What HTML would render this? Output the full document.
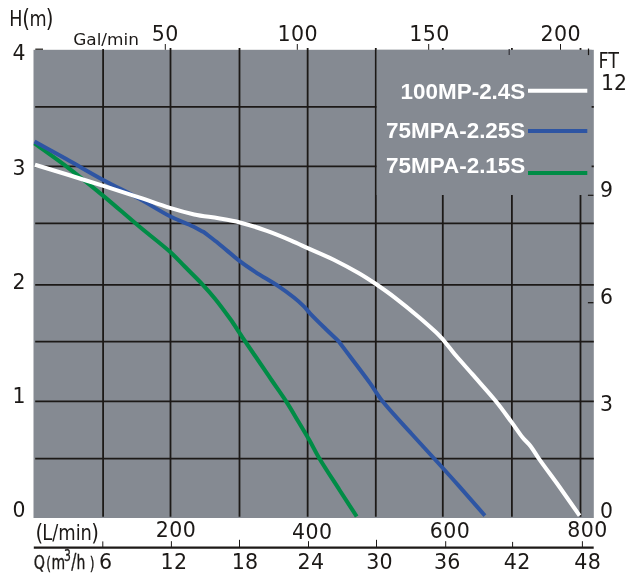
<!DOCTYPE html><html><head><meta charset="utf-8"><title>Pump curve</title>
<style>html,body{margin:0;padding:0;background:#fff}svg{display:block}text{fill:#1c1917}.d{font-family:"DejaVu Sans","Liberation Sans",sans-serif}.a{font-family:"Liberation Sans",sans-serif;font-weight:bold;fill:#fff}</style></head><body>
<svg width="626" height="578" viewBox="0 0 626 578">
<rect width="626" height="578" fill="#fff"/>
<rect x="33.5" y="49.8" width="560.3" height="468.2" fill="#858a92"/>
<g stroke="#1c1917" stroke-width="1.8" fill="none">
<line x1="103.1" y1="49.0" x2="103.1" y2="516.8"/>
<line x1="170.5" y1="48.0" x2="170.5" y2="516.8"/>
<line x1="239.5" y1="48.0" x2="239.5" y2="516.8"/>
<line x1="307.65" y1="48.0" x2="307.65" y2="516.8"/>
<line x1="375.8" y1="48.0" x2="375.8" y2="516.8"/>
<line x1="442.8" y1="48.0" x2="442.8" y2="516.8"/>
<line x1="511.9" y1="48.0" x2="511.9" y2="516.8"/>
<line x1="580.5" y1="48.0" x2="580.5" y2="516.8"/>
<line x1="35.2" y1="106.8" x2="593.8" y2="106.8"/>
<line x1="35.2" y1="166.4" x2="593.8" y2="166.4"/>
<line x1="35.2" y1="223.4" x2="593.8" y2="223.4"/>
<line x1="35.2" y1="284.8" x2="593.8" y2="284.8"/>
<line x1="35.2" y1="341.65" x2="593.8" y2="341.65"/>
<line x1="35.2" y1="401.4" x2="593.8" y2="401.4"/>
<line x1="35.2" y1="458.65" x2="593.8" y2="458.65"/>
<line x1="35.3" y1="49.2" x2="43.0" y2="49.2" stroke-width="1.3" stroke="#2a2725"/>
</g>
<rect x="376.7" y="49.8" width="214.9" height="145.2" fill="#858a92"/>
<path d="M34.5,143.3 C45.1,151.0 55.9,158.4 66.3,166.3 C78.6,175.7 90.7,185.4 102.7,195.3 C115.0,205.4 126.8,216.1 139.0,226.3 C149.2,234.9 160.0,243.0 170.0,251.8 C175.1,256.3 179.7,261.5 184.5,266.3 C190.6,272.5 196.9,278.5 202.8,284.8 C207.0,289.3 211.1,293.9 215.0,298.7 C220.6,305.6 225.8,312.8 231.0,320.0 C234.2,324.5 237.1,329.3 240.2,333.9 C241.8,336.3 243.4,338.8 245.0,341.2 C251.6,350.9 258.4,360.6 265.0,370.3 C267.2,373.5 269.3,376.8 271.5,380.0 C276.4,387.2 281.6,394.3 286.3,401.6 C290.4,407.9 294.1,414.5 298.0,421.0 C301.8,427.3 305.6,433.6 309.3,440.0 C312.7,445.9 315.6,452.2 319.1,458.0 C325.6,468.8 332.7,479.4 339.5,490.0 C345.2,498.9 351.0,507.7 356.7,516.5" stroke="#008c46" stroke-width="4.1" fill="none" stroke-linejoin="round"/>
<path d="M34.5,141.4 C45.1,147.3 55.7,153.2 66.3,159.1 C78.5,165.9 90.4,173.0 102.7,179.7 C114.7,186.2 127.0,192.1 139.0,198.6 C149.5,204.3 159.4,210.8 170.0,216.3 C176.3,219.6 183.0,221.8 189.4,224.8 C194.2,227.0 198.8,229.5 203.5,231.9 C208.5,235.8 213.6,239.5 218.5,243.5 C225.7,249.3 232.5,255.5 239.8,261.2 C244.6,264.9 249.7,268.3 254.8,271.6 C262.8,276.8 271.1,281.4 279.0,286.6 C284.1,290.0 289.1,293.7 293.9,297.5 C297.3,300.2 300.5,303.1 303.6,306.1 C305.9,308.3 307.8,311.0 310.0,313.3 C314.7,318.2 319.6,323.0 324.5,327.8 C329.1,332.4 333.9,336.8 338.6,341.3 C342.8,346.9 347.0,352.4 351.2,358.0 C357.5,366.4 363.9,374.7 370.0,383.2 C374.3,389.1 377.8,395.6 382.5,401.3 C391.8,412.6 401.9,423.2 411.7,434.0 C420.2,443.4 428.8,452.6 437.3,462.0 C444.4,469.8 451.4,477.5 458.4,485.4 C467.3,495.4 476.1,505.5 484.9,515.6" stroke="#2e55a3" stroke-width="4.0" fill="none" stroke-linejoin="round"/>
<path d="M35.0,164.8 C45.4,168.0 55.9,171.1 66.3,174.3 C78.4,178.0 90.6,181.8 102.7,185.6 C114.8,189.5 126.9,193.4 139.0,197.4 C149.4,200.8 159.6,204.7 170.0,207.9 C178.0,210.4 186.0,212.6 194.2,214.4 C202.2,216.1 210.4,216.9 218.5,218.3 C225.6,219.5 232.8,220.6 239.8,222.4 C249.0,224.8 258.0,227.7 266.9,230.9 C275.1,233.8 283.2,237.2 291.2,240.6 C297.5,243.3 303.7,246.3 310.0,249.1 C318.1,252.7 326.3,256.1 334.2,260.0 C342.4,264.1 350.5,268.4 358.5,273.0 C364.4,276.4 370.2,280.2 375.9,284.0 C382.3,288.4 388.7,292.9 394.8,297.6 C403.0,303.9 411.1,310.5 419.0,317.2 C424.8,322.1 430.4,327.1 436.0,332.2 C437.9,334.0 439.7,335.9 441.5,337.8 C444.3,341.3 447.2,344.8 450.0,348.3 C452.2,351.0 454.3,353.7 456.5,356.3 C461.7,362.3 467.1,368.2 472.3,374.2 C480.1,383.1 488.2,391.8 495.7,401.0 C501.5,408.1 506.7,415.6 512.1,422.9 C515.6,427.7 518.7,432.7 522.4,437.3 C525.0,440.5 528.3,443.1 530.8,446.4 C533.7,450.2 535.9,454.5 538.7,458.4 C545.3,467.8 552.3,476.9 559.0,486.3 C565.9,496.0 572.7,505.8 579.6,515.6" stroke="#fff" stroke-width="4.1" fill="none" stroke-linejoin="round"/>
<line x1="528" y1="90.7" x2="587.3" y2="90.7" stroke="#fff" stroke-width="4"/>
<line x1="528" y1="130.9" x2="587.3" y2="130.9" stroke="#2e55a3" stroke-width="4"/>
<line x1="528" y1="173" x2="587.3" y2="173" stroke="#008c46" stroke-width="4"/>
<text class="a" font-size="22.45" text-anchor="end" x="525.3" y="99.2">100MP-2.4S</text>
<text class="a" font-size="22.45" text-anchor="end" x="525.3" y="137.5">75MPA-2.25S</text>
<text class="a" font-size="22.45" text-anchor="end" x="525.3" y="173.4">75MPA-2.15S</text>
<g stroke="#1c1917" stroke-width="1" fill="none">
<line x1="165.3" y1="44" x2="165.3" y2="49.8"/>
<line x1="297.3" y1="44" x2="297.3" y2="49.8"/>
<line x1="428.7" y1="44" x2="428.7" y2="49.8"/>
<line x1="560.5" y1="44" x2="560.5" y2="49.8"/>
<line x1="588.5" y1="48.5" x2="588.5" y2="55.1" stroke-width="1.2"/><line x1="509.2" y1="48.9" x2="509.2" y2="55.1" stroke-width="1.2" stroke="#35343a"/>
<line x1="587.9" y1="195.3" x2="593.4" y2="195.3" stroke-width="1.2"/>
<line x1="587.9" y1="302.7" x2="593.4" y2="302.7" stroke-width="1.3"/>
<line x1="33.8" y1="547.6" x2="593.7" y2="547.6" stroke-width="2.3"/>
<line x1="102.8" y1="541.4" x2="102.8" y2="547.3"/>
<line x1="171.4" y1="541.2" x2="171.4" y2="547.3"/>
<line x1="239.5" y1="539.8" x2="239.5" y2="547.3"/>
<line x1="308.5" y1="541.2" x2="308.5" y2="547.3"/>
<line x1="376.5" y1="539.8" x2="376.5" y2="547.3"/>
<line x1="445.7" y1="541.2" x2="445.7" y2="547.3"/>
<line x1="512.6" y1="541.9" x2="512.6" y2="547.3"/>
<line x1="582.4" y1="541.2" x2="582.4" y2="547.3"/>
</g>
<text class="d" font-size="20.4" x="12.4" y="60.0">4</text>
<text class="d" font-size="20.4" x="12.4" y="174.8">3</text>
<text class="d" font-size="20.4" x="12.4" y="288.6">2</text>
<text class="d" font-size="20.4" x="12.4" y="403.0">1</text>
<text class="d" font-size="20.4" x="12.4" y="517.0">0</text>
<text class="d" font-size="20.4" x="601.0" y="89.6">12</text>
<text class="d" font-size="20.4" x="599.9" y="196.8">9</text>
<text class="d" font-size="20.4" x="599.9" y="304.0">6</text>
<text class="d" font-size="20.4" x="599.9" y="411.1">3</text>
<text class="d" font-size="20.4" x="599.9" y="518.3">0</text>
<text class="d" font-size="20.6" letter-spacing="0.4" text-anchor="middle" x="165.2" y="41.3">50</text>
<text class="d" font-size="20.6" letter-spacing="0.4" text-anchor="middle" x="297.7" y="41.3">100</text>
<text class="d" font-size="20.6" letter-spacing="0.4" text-anchor="middle" x="429.5" y="41.3">150</text>
<text class="d" font-size="20.6" letter-spacing="0.4" text-anchor="middle" x="560.8000000000001" y="41.3">200</text>
<text class="d" font-size="16.4" x="73.2" y="44.7" textLength="65.7" lengthAdjust="spacingAndGlyphs">Gal/min</text>
<g transform="scale(0.825,1)"><text class="d" font-size="21.33" y="26.4"><tspan x="11.1">H</tspan><tspan font-size="24" x="27.0" y="27.5">(</tspan><tspan x="35.9" y="26.4">m</tspan><tspan font-size="24" x="55.6" y="27.5">)</tspan></text></g>
<text class="d" font-size="21.33" x="598.4" y="68.0" textLength="20.5" lengthAdjust="spacingAndGlyphs">FT</text>
<text class="d" font-size="20.5" letter-spacing="0.45" text-anchor="middle" x="176.1" y="537.2">200</text>
<text class="d" font-size="20.5" letter-spacing="0.45" text-anchor="middle" x="312.2" y="539.0">400</text>
<text class="d" font-size="20.5" letter-spacing="0.45" text-anchor="middle" x="449.9" y="538.2">600</text>
<text class="d" font-size="20.5" letter-spacing="0.45" text-anchor="middle" x="587.6" y="537.3">800</text>
<g transform="scale(0.832,1)"><text class="d" font-size="21.5" y="540.3"><tspan font-size="23.7" x="42.7" y="541.1">(</tspan><tspan x="50.8" y="540.3">L/min</tspan><tspan font-size="23.7" x="109.7" y="541.1">)</tspan></text></g>
<text class="d" font-size="20.6" letter-spacing="0.3" text-anchor="middle" x="105.65" y="568.6">6</text>
<text class="d" font-size="20.6" letter-spacing="0.3" text-anchor="middle" x="173.95000000000002" y="568.6">12</text>
<text class="d" font-size="20.6" letter-spacing="0.3" text-anchor="middle" x="245.05" y="568.6">18</text>
<text class="d" font-size="20.6" letter-spacing="0.3" text-anchor="middle" x="310.95" y="568.6">24</text>
<text class="d" font-size="20.6" letter-spacing="0.3" text-anchor="middle" x="379.54999999999995" y="568.6">30</text>
<text class="d" font-size="20.6" letter-spacing="0.3" text-anchor="middle" x="447.34999999999997" y="568.6">36</text>
<text class="d" font-size="20.6" letter-spacing="0.3" text-anchor="middle" x="517.15" y="568.6">42</text>
<text class="d" font-size="20.6" letter-spacing="0.3" text-anchor="middle" x="587.75" y="568.6">48</text>
<g transform="translate(34,568.5) scale(0.72,1)" stroke="#1c1917" stroke-width="0.35"><text class="d" font-size="19.5" y="0"><tspan font-size="19.8" x="-0.5">Q</tspan><tspan font-size="17" x="17.0" y="1.1">(</tspan><tspan x="24.3" y="0">m</tspan><tspan font-size="15" x="41.6" y="-7.9">3</tspan><tspan font-size="21" x="51.9" y="0.6">/</tspan><tspan x="59.2" y="0">h </tspan><tspan font-size="17" x="77.6" y="1.1">)</tspan></text></g>
</svg></body></html>
